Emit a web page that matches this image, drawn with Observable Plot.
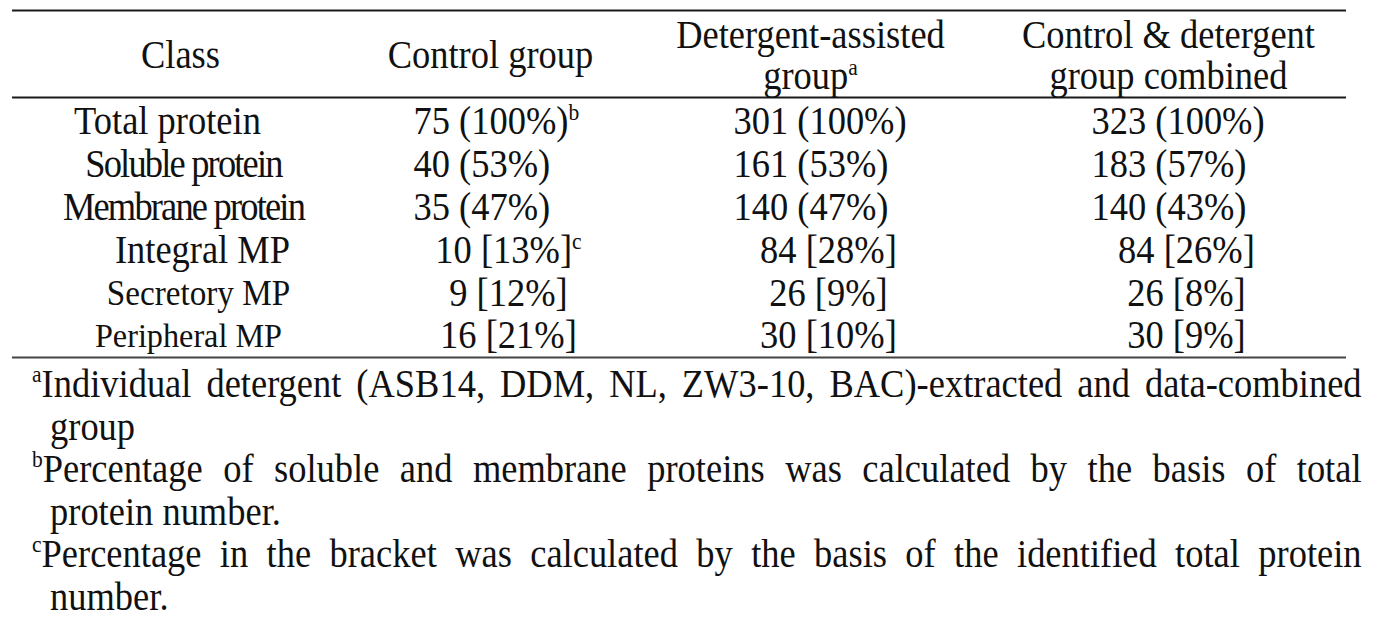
<!DOCTYPE html>
<html><head><meta charset="utf-8">
<script src="https://cdn.jsdelivr.net/npm/d3@7"></script>
<script src="https://cdn.jsdelivr.net/npm/@observablehq/plot@0.6"></script>
<style>
html,body{margin:0;padding:0;background:#fff;}
body{width:1379px;height:634px;overflow:hidden;font-family:"Liberation Serif","Times New Roman",serif;color:#111;}
#chart svg{display:block;}
.notes{font-size:39px;line-height:42.6px;margin-top:-1px;}
.ln{white-space:nowrap;transform-origin:0 0;transform:scaleX(0.935);}
.first{margin-left:32px;width:1422px;text-align:justify;text-align-last:justify;}
.cont{margin-left:50px;}
.notes sup{font-size:23px;line-height:0;vertical-align:baseline;position:relative;top:-15px;}
</style></head><body>
<div id="chart"></div>
<div class="notes" id="notes"></div>
<script>
// ---- data ----
const columns = ["Class", "Control group", "Detergent-assisted group", "Control & detergent group combined"];
const headerLines = ["Class", "Control group", "Detergent-assisted\ngroup", "Control & detergent\ngroup combined"];
const headerNotes = ["", "", "a", ""];
const classes = ["Total protein", "Soluble protein", "Membrane protein", "Integral MP", "Secretory MP", "Peripheral MP"];
const classLevel = [0, 0, 0, 1, 1, 1];
const controlCount = [75, 40, 35, 10, 9, 16];
const controlPct = [100, 53, 47, 13, 12, 21];
const controlNotes = ["b", "", "", "c", "", ""];
const detergentCount = [301, 161, 140, 84, 26, 30];
const detergentPct = [100, 53, 47, 28, 9, 10];
const detergentNotes = ["", "", "", "", "", ""];
const combinedCount = [323, 183, 140, 84, 26, 30];
const combinedPct = [100, 57, 43, 26, 8, 9];
const combinedNotes = ["", "", "", "", "", ""];
const footnoteMarks = ["a", "b", "c"];
const footnoteFirstLines = [
  "Individual detergent (ASB14, DDM, NL, ZW3-10, BAC)-extracted and data-combined",
  "Percentage of soluble and membrane proteins was calculated by the basis of total",
  "Percentage in the bracket was calculated by the basis of the identified total protein"
];
const footnoteRestLines = ["group", "protein number.", "number."];

// ---- layout / style (not data) ----
const SX = 0.935;                 // horizontal condensing of the typeface
const W = 1379, H = 364, VW = W / SX;
const colCenters = [180, 490, 810, 1168];
const rowRange = [121.5, 335.5];
const labelFontSize = [39, 39, 39, 39, 35.5, 34.5];
const labelTracking = [0, -1.95, -1.95, 0, 0, 0];
const labelShift = [-13, 3, 3, 22, 18, 8];
const FS = 39;

const groups = [
  {count: controlCount, pct: controlPct, notes: controlNotes},
  {count: detergentCount, pct: detergentPct, notes: detergentNotes},
  {count: combinedCount, pct: combinedPct, notes: combinedNotes}
];
const fmt = (n, p, lvl) => lvl === 0 ? `${n} (${p}%)` : `${n} [${p}%]`;

const header = headerLines.map((t, j) => ({col: j, text: t, note: headerNotes[j]}));
const labels = classes.map((c, i) => ({row: i, text: c, level: classLevel[i], size: labelFontSize[i], track: labelTracking[i], shift: labelShift[i]}));
const cells = [];
classes.forEach((c, i) => groups.forEach((g, j) => cells.push({
  row: i, col: j + 1, level: classLevel[i], text: fmt(g.count[i], g.pct[i], classLevel[i]), note: g.notes[i]
})));
const cell0 = cells.filter(d => d.level === 0), cell1 = cells.filter(d => d.level === 1);

const plot = Plot.plot({
  width: VW, height: H,
  marginLeft: 12 / SX, marginRight: 33 / SX, marginTop: 0, marginBottom: 0,
  x: {type: "linear", domain: [0, 1, 2, 3], range: colCenters.map(v => v / SX), axis: null},
  y: {type: "linear", domain: [0, 5], range: rowRange, axis: null},
  style: {fontFamily: '"Liberation Serif","Times New Roman",serif', fontSize: FS + "px", color: "#111", background: "#fff"},
  marks: [
    Plot.ruleY([-2.605, -0.572], {stroke: "#1a1a1a", strokeWidth: 2}),
    Plot.ruleY([5.5], {stroke: "#444", strokeWidth: 2}),
    Plot.text(header, {x: "col", y: () => -1.56, text: "text", lineHeight: 1.06, fontSize: FS}),
    Plot.text(cell0, {x: "col", y: "row", text: "text", textAnchor: "start", dx: -77 / SX, fontSize: FS}),
    Plot.text(cell1, {x: "col", y: "row", text: "text", dx: 18 / SX, fontSize: FS}),
    ...labels.map(d => Plot.text([d], {x: () => 0, y: "row", text: "text", fontSize: d.size, dx: d.shift / SX}))
  ]
});
plot.setAttribute("width", W);
plot.setAttribute("preserveAspectRatio", "none");
plot.style.width = W + "px";
plot.style.height = H + "px";
plot.style.maxWidth = "none";
document.getElementById("chart").appendChild(plot);

// superscripts & tracking
const textGroups = plot.querySelectorAll('g[aria-label="text"]');
const addNotes = (g, data) => {
  g.querySelectorAll(":scope > text").forEach((el, k) => {
    const d = data[k];
    if (d && d.note) {
      const ts = document.createElementNS("http://www.w3.org/2000/svg", "tspan");
      ts.setAttribute("font-size", "23");
      ts.setAttribute("dy", "-14");
      ts.textContent = d.note;
      el.appendChild(ts);
    }
  });
};
addNotes(textGroups[0], header);
addNotes(textGroups[1], cell0);
addNotes(textGroups[2], cell1);
labels.forEach((d, k) => {
  const el = textGroups[3 + k].querySelector("text");
  if (el && d.track) el.setAttribute("letter-spacing", d.track);
});

// footnotes
const notes = document.getElementById("notes");
footnoteMarks.forEach((m, i) => {
  const a = document.createElement("div");
  a.className = "ln first";
  const s = document.createElement("sup");
  s.textContent = m;
  a.appendChild(s);
  a.appendChild(document.createTextNode(footnoteFirstLines[i]));
  notes.appendChild(a);
  const b = document.createElement("div");
  b.className = "ln cont";
  b.textContent = footnoteRestLines[i];
  notes.appendChild(b);
});
</script>
</body></html>
